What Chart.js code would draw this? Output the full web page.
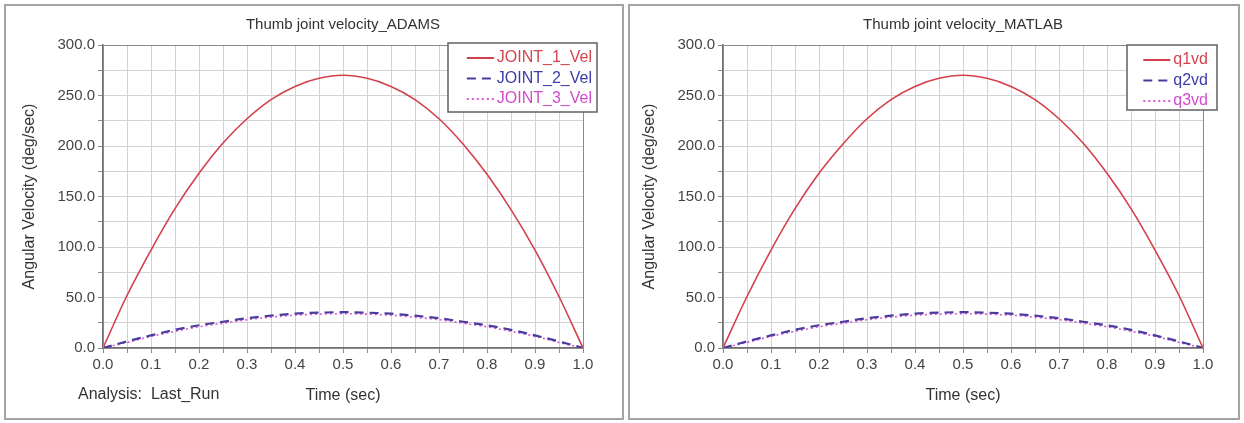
<!DOCTYPE html>
<html>
<head>
<meta charset="utf-8">
<script src="https://cdn.jsdelivr.net/npm/chart.js@4.4.1/dist/chart.umd.min.js"></script>
<style>
  body { margin: 0; background: #fff; width: 1244px; height: 423px; position: relative; overflow: hidden; }
  .panel { position: absolute; top: 4px; height: 412px; border: 2px solid #a4a4a4; background: #fff; }
  #left { left: 4px; width: 616px; }
  #right { left: 628px; width: 608px; }
  .panel canvas { position: absolute; left: 0; top: 0; }
</style>
</head>
<body>
<div class="panel" id="left"><canvas id="adams" width="616" height="412"></canvas></div>
<div class="panel" id="right"><canvas id="matlab" width="608" height="412"></canvas></div>
<script>
// time samples (sec)
const timeSec = [0, 0.05, 0.1, 0.15, 0.2, 0.25, 0.3, 0.35, 0.4, 0.45, 0.5, 0.55, 0.6, 0.65, 0.7, 0.75, 0.8, 0.85, 0.9, 0.95, 1.0];

// ADAMS run (deg/sec)
const joint1Vel = [0, 52, 97, 138, 173, 203, 227, 246, 259, 267, 270, 267, 259, 246, 227, 202, 172, 137, 97, 51, 0];
const joint2Vel = [0, 6.5, 12.5, 18, 22.5, 26, 29.5, 32, 34, 35, 35.5, 35, 34, 32, 29.5, 26, 22.5, 18, 12.5, 6.5, 0];
const joint3Vel = [0, 5.5, 11.5, 16.5, 21, 24.5, 28, 30.5, 32.5, 33.5, 34, 33.5, 32.5, 30.5, 28, 24.5, 21, 16.5, 11.5, 5.5, 0];

// MATLAB run (deg/sec)
const q1vd = [0, 51, 97, 138, 173, 202, 227, 246, 259, 267, 270, 267, 259, 246, 227, 203, 173, 138, 97, 52, 0];
const q2vd = [0, 6.5, 12.5, 18, 22.5, 26, 29.5, 32, 34, 35, 35.5, 35, 34, 32, 29.5, 26, 22.5, 18, 12.5, 6.5, 0];
const q3vd = [0, 5.5, 11.5, 16.5, 21, 24.5, 28, 30.5, 32.5, 33.5, 34, 33.5, 32.5, 30.5, 28, 24.5, 21, 16.5, 11.5, 5.5, 0];

const FONT = "'Liberation Sans', Arial, sans-serif";
const RED = '#d4404a';
const BLUE = '#4a3c9c';
const PINK = '#d65ad6';

const toPoints = (ys) => ys.map((y, i) => ({ x: timeSec[i], y: y }));

// plot frame, inline legend box and footnote text
const panelDecor = {
  id: 'panelDecor',
  afterDraw(chart, args, opts) {
    const { ctx, chartArea: a } = chart;
    ctx.save();
    ctx.strokeStyle = '#8a8a8a';
    ctx.lineWidth = 1;
    ctx.strokeRect(a.left + 0.5, a.top + 0.5, a.right - a.left, a.bottom - a.top);

    // legend box
    const bx = a.right + 14 - opts.boxWidth;
    const by = a.top + opts.boxTop;
    ctx.fillStyle = '#fff';
    ctx.fillRect(bx, by, opts.boxWidth, opts.boxHeight);
    ctx.strokeStyle = '#606060';
    ctx.lineWidth = 1.5;
    ctx.strokeRect(bx, by, opts.boxWidth, opts.boxHeight);
    ctx.font = '16px ' + FONT;
    ctx.textBaseline = 'middle';
    chart.data.datasets.forEach((ds, i) => {
      const y = by + 15 + 20.5 * i;
      const textRight = bx + opts.boxWidth - opts.textGap;
      ctx.textAlign = 'right';
      ctx.fillStyle = ds.textColor;
      ctx.fillText(ds.label, textRight, y);
      const tl = textRight - ctx.measureText(ds.label).width;
      ctx.beginPath();
      ctx.setLineDash(ds.borderDash || []);
      ctx.strokeStyle = ds.borderColor;
      ctx.lineWidth = 2;
      ctx.moveTo(tl - 30, y);
      ctx.lineTo(tl - 3, y);
      ctx.stroke();
    });
    ctx.setLineDash([]);

    if (opts.note) {
      ctx.font = '16px ' + FONT;
      ctx.fillStyle = '#333';
      ctx.textAlign = 'left';
      ctx.fillText(opts.note, 72, 389);
    }
    ctx.restore();
  }
};

function makeChart(id, title, names, series, yAxisWidth, rightPad, yTitlePad, decor) {
  const styles = [
    { borderColor: RED, borderWidth: 1.6, borderDash: [], textColor: '#d2454f', order: 1 },
    { borderColor: BLUE, borderWidth: 2.2, borderDash: [9, 6], textColor: '#3d3ba8', order: 2 },
    { borderColor: PINK, borderWidth: 1.6, borderDash: [2, 3], textColor: '#d04ccc', order: 3 }
  ];
  return new Chart(document.getElementById(id), {
    type: 'line',
    data: {
      datasets: series.map((ys, i) => ({
        label: names[i],
        data: toPoints(ys),
        borderColor: styles[i].borderColor,
        borderWidth: styles[i].borderWidth,
        borderDash: styles[i].borderDash,
        textColor: styles[i].textColor,
        order: styles[i].order,
        pointRadius: 0,
        cubicInterpolationMode: 'monotone',
        fill: false
      }))
    },
    options: {
      responsive: false,
      animation: false,
      layout: { padding: { left: 0, right: rightPad, top: 0, bottom: 0 } },
      plugins: {
        legend: { display: false },
        tooltip: { enabled: false },
        title: {
          display: true,
          text: title,
          fullSize: false,
          color: '#333',
          font: { family: FONT, size: 15, weight: 'normal' },
          padding: { top: 10, bottom: 11 }
        },
        panelDecor: decor
      },
      scales: {
        x: {
          type: 'linear',
          min: 0,
          max: 1,
          afterFit(scale) { scale.height = 70; },
          ticks: {
            stepSize: 0.05,
            autoSkip: false,
            maxRotation: 0,
            padding: 3,
            color: '#444',
            font: { family: FONT, size: 15 },
            callback: (v) => (Math.round(v * 100) % 10 === 0 ? v.toFixed(1) : '')
          },
          grid: { color: '#d2d2d2', tickLength: 5, tickColor: '#8a8a8a' },
          border: { color: '#707070', width: 1.5 },
          title: {
            display: true,
            text: 'Time (sec)',
            color: '#333',
            font: { family: FONT, size: 16 },
            padding: { top: 4, bottom: 13 }
          }
        },
        y: {
          min: 0,
          max: 300,
          afterFit(scale) { scale.width = yAxisWidth; },
          ticks: {
            stepSize: 25,
            autoSkip: false,
            padding: 3,
            color: '#444',
            font: { family: FONT, size: 15 },
            callback: (v) => (v % 50 === 0 ? v.toFixed(1) : '')
          },
          grid: { color: '#d2d2d2', tickLength: 5, tickColor: '#8a8a8a' },
          border: { color: '#707070', width: 1.5 },
          title: {
            display: true,
            text: 'Angular Velocity (deg/sec)',
            color: '#333',
            font: { family: FONT, size: 16 },
            padding: { top: yTitlePad, bottom: 4 }
          }
        }
      }
    },
    plugins: [panelDecor]
  });
}

makeChart('adams', 'Thumb joint velocity_ADAMS',
  ['JOINT_1_Vel', 'JOINT_2_Vel', 'JOINT_3_Vel'],
  [joint1Vel, joint2Vel, joint3Vel],
  97, 39, 14,
  { boxWidth: 149, boxHeight: 69, boxTop: -2, textGap: 5, note: 'Analysis:  Last_Run' });

makeChart('matlab', 'Thumb joint velocity_MATLAB',
  ['q1vd', 'q2vd', 'q3vd'],
  [q1vd, q2vd, q3vd],
  93, 35, 10,
  { boxWidth: 90, boxHeight: 65, boxTop: 0, textGap: 9 });
</script>
</body>
</html>
